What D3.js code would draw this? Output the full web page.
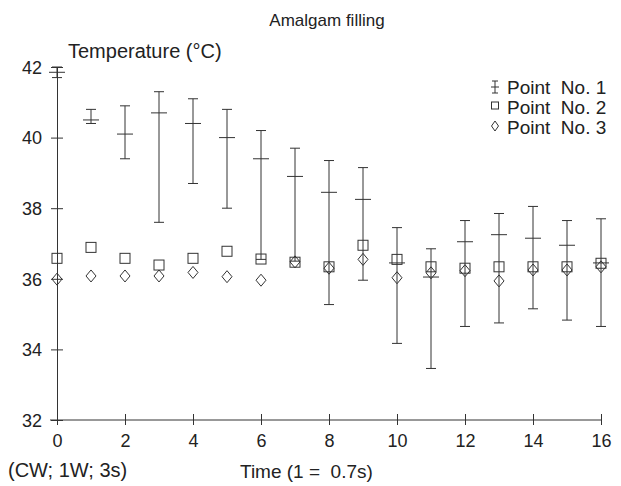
<!DOCTYPE html>
<html><head><meta charset="utf-8">
<script src="https://cdn.jsdelivr.net/npm/d3@7"></script>
<style>body{margin:0;background:#fff}text{font-family:"Liberation Sans",Arial,Helvetica,sans-serif;fill:#222;white-space:pre}</style>
</head><body><svg id="c" width="621" height="486"></svg>
<script>
const times = [0,1,2,3,4,5,6,7,8,9,10,11,12,13,14,15,16];
const p1Mean = [41.85,40.5,40.1,40.7,40.4,40.0,39.4,38.9,38.45,38.25,36.45,36.05,37.05,37.25,37.15,36.95,36.45];
const p1Hi   = [42.0,40.8,40.9,41.3,41.1,40.8,40.2,39.7,39.35,39.15,37.45,36.85,37.65,37.85,38.05,37.65,37.7];
const p1Lo   = [41.7,40.4,39.4,37.6,38.7,38.0,36.55,36.5,35.27,35.96,34.17,33.46,34.65,34.75,35.15,34.83,34.65];
const p2 = [36.58,36.89,36.58,36.39,36.58,36.78,36.56,36.47,36.34,36.95,36.55,36.34,36.3,36.34,36.34,36.34,36.44];
const p3 = [35.99,36.08,36.08,36.08,36.18,36.06,35.96,36.48,36.3,36.55,36.03,36.17,36.23,35.94,36.25,36.25,36.34];
const yTicks = [32,34,36,38,40,42];
const xTicks = [0,2,4,6,8,10,12,14,16];
const legendLabels = ["Point  No. 1","Point  No. 2","Point  No. 3"];

const svg = d3.select("#c");
const ink = "#333";
const x = d3.scaleLinear().domain([0,16]).range([57,601]);
const y = d3.scaleLinear().domain([32,42]).range([420,67]);

// title and labels
svg.append("text").attr("x",327).attr("y",26).attr("text-anchor","middle").attr("font-size",17).text("Amalgam filling");
svg.append("text").attr("x",68).attr("y",58).attr("font-size",20).text("Temperature (°C)");
svg.append("text").attr("x",8).attr("y",477).attr("font-size",20).text("(CW; 1W; 3s)");
svg.append("text").attr("x",240).attr("y",478).attr("font-size",19).text("Time (1 =  0.7s)");

// y axis
const yAxis = d3.axisLeft(y).tickValues(yTicks).tickSize(0).tickPadding(15).tickFormat(d3.format("d"));
const ga = svg.append("g").attr("transform",`translate(${x(0)},0)`).call(yAxis);
ga.select(".domain").attr("stroke",ink);
ga.selectAll(".tick text").attr("font-size",18).attr("fill","#222").attr("dy","0.35em").attr("font-family","Liberation Sans, Arial, sans-serif");
ga.selectAll(".tick").append("line").attr("x1",-6).attr("x2",6).attr("stroke",ink);

// x axis
const xAxis = d3.axisBottom(x).tickValues(xTicks).tickSize(0).tickPadding(14).tickFormat(d3.format("d"));
const gx = svg.append("g").attr("transform",`translate(0,${y(32)})`).call(xAxis);
gx.select(".domain").remove();
gx.append("line").attr("x1",x(0)-7).attr("x2",x(16)).attr("stroke",ink);
gx.selectAll(".tick text").attr("font-size",18).attr("fill","#222").attr("font-family","Liberation Sans, Arial, sans-serif");
gx.selectAll(".tick").append("line").attr("y1",-6).attr("y2",5).attr("stroke",ink);

// point 1 error bars
const g1 = svg.append("g").attr("stroke",ink).attr("fill","none");
times.forEach((t,i)=>{
  const cx = x(t);
  g1.append("line").attr("x1",cx).attr("x2",cx).attr("y1",y(p1Hi[i])).attr("y2",y(p1Lo[i]));
  g1.append("line").attr("x1",cx-5).attr("x2",cx+5).attr("y1",y(p1Hi[i])).attr("y2",y(p1Hi[i]));
  g1.append("line").attr("x1",cx-5).attr("x2",cx+5).attr("y1",y(p1Lo[i])).attr("y2",y(p1Lo[i]));
  g1.append("line").attr("x1",cx-8).attr("x2",cx+8).attr("y1",y(p1Mean[i])).attr("y2",y(p1Mean[i]));
});

// point 2 squares
svg.append("g").selectAll("rect").data(times).join("rect")
  .attr("x",t=>x(t)-5).attr("y",(t,i)=>y(p2[i])-5).attr("width",10).attr("height",10)
  .attr("fill","none").attr("stroke",ink);

// point 3 diamonds
const diamond = (cx,cy)=>`M${cx},${cy-6}L${cx+5},${cy}L${cx},${cy+6}L${cx-5},${cy}Z`;
svg.append("g").selectAll("path").data(times).join("path")
  .attr("d",(t,i)=>diamond(x(t),y(p3[i]))).attr("fill","none").attr("stroke",ink);

// legend
const lg = svg.append("g");
const ly = [94,114,134];
legendLabels.forEach((l,i)=>{
  lg.append("text").attr("x",507).attr("y",ly[i]).attr("font-size",19).text(l);
});
const lc = 495;
lg.append("line").attr("x1",lc).attr("x2",lc).attr("y1",81).attr("y2",93).attr("stroke",ink);
lg.append("line").attr("x1",lc-3).attr("x2",lc+3).attr("y1",81).attr("y2",81).attr("stroke",ink);
lg.append("line").attr("x1",lc-3).attr("x2",lc+3).attr("y1",93).attr("y2",93).attr("stroke",ink);
lg.append("line").attr("x1",lc-4).attr("x2",lc+4).attr("y1",87).attr("y2",87).attr("stroke",ink);
lg.append("rect").attr("x",lc-3.5).attr("y",102).attr("width",7).attr("height",7).attr("fill","none").attr("stroke",ink);
lg.append("path").attr("d",`M${lc},121L${lc+3.5},126L${lc},131L${lc-3.5},126Z`).attr("fill","none").attr("stroke",ink);
</script></body></html>
